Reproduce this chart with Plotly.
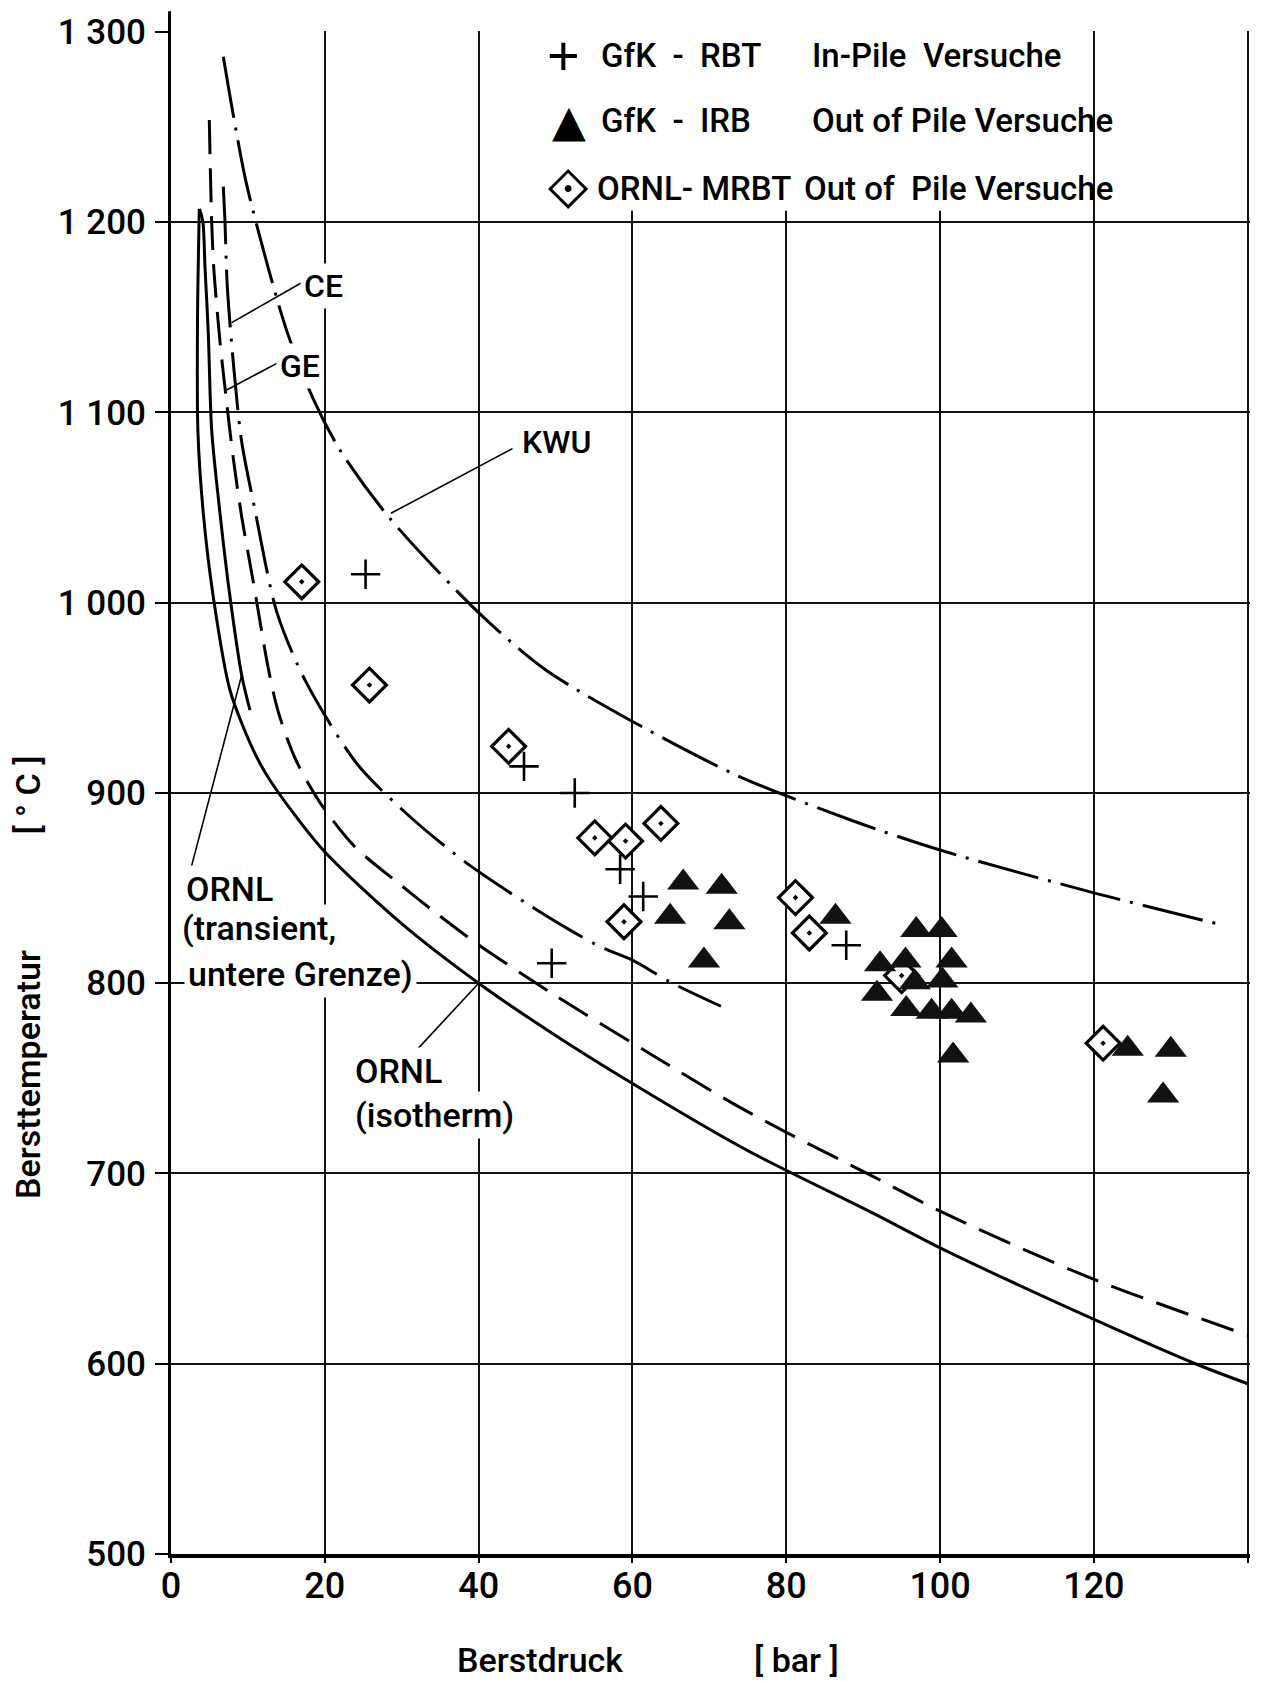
import plotly.graph_objects as go

# ---------------- data ----------------
press_ticks = [0, 20, 40, 60, 80, 100, 120, 140]
temp_ticks = [500, 600, 700, 800, 900, 1000, 1100, 1200, 1300]
temp_labels = ["500", "600", "700", "800", "900", "1 000", "1 100", "1 200", "1 300"]

# ORNL (isotherm) - solid
iso_p = [3.68, 3.45, 3.5, 4.2, 5.5, 7.67, 10.7, 12.87, 19.6, 29.8, 40.0, 49.3, 60.0, 74.9, 91.4, 100.2, 119.8, 133.2, 140.0]
iso_t = [1207, 1150, 1090, 1047, 1003, 954, 922.5, 906.7, 870.8, 832, 800, 774.4, 747.3, 712.2, 678.9, 660.5, 623.7, 600, 589.5]

# ORNL (transient, untere Grenze) - solid, short
tra_p = [3.72, 4.15, 4.42, 4.85, 5.29, 6.37, 7.67, 9.19, 10.27]
tra_t = [1207, 1200, 1176.6, 1141.6, 1090.7, 1047, 1003.1, 961.9, 943.5]

# GE - long dashes
ge_p = [4.98, 5.29, 5.59, 6.37, 7.15, 8.1, 9.19, 10.7, 12.65, 13.95, 16.25, 19.6, 23.9, 29.35, 34.55,
        39.75, 49.9, 61.9, 73.1, 80.3, 91.4, 100.2, 119.8, 140.0]
ge_t = [1253.7, 1200.3, 1174, 1137.2, 1108.3, 1075.9, 1045.2, 1011, 965.5, 942.6, 917.2, 893.6, 871.7, 853.3, 836.6,
        820.9, 793.7, 763.9, 736.7, 721, 698.2, 679.8, 644.7, 615]

# CE - dash-dot
ce_p = [6.8, 7.02, 7.32, 8.19, 9.19, 10.92, 13.75, 17.43, 24.15, 30.86, 38.32, 46.25, 51.9, 56.0, 60.0, 65.1, 71.5]
ce_t = [1218.7, 1200.3, 1166.1, 1122.3, 1084.6, 1048.7, 995.2, 959.3, 915.5, 888.3, 863.5, 841.9, 827.9, 818.8, 812.1, 800.2, 787.9]

# KWU - dash-dot, long dashes
kwu_p = [6.8, 8.1, 9.75, 12.65, 15.12, 18.43, 21.98, 28.4, 40.0, 48.6, 60.0, 73.7, 88.9, 100.0, 120.0, 136.3]
kwu_t = [1287, 1256.4, 1221.3, 1175.8, 1142.1, 1107.7, 1080.2, 1044.6, 994.8, 965, 937.6, 909, 885, 870, 847.5, 831]

# GfK - RBT  In-Pile Versuche (+)
rbt_p = [25.3, 45.9, 52.5, 58.4, 61.4, 49.5, 87.8]
rbt_t = [1015, 914, 900, 859.9, 845.6, 810.5, 820]

# GfK - IRB  Out of Pile Versuche (filled triangles)
irb_p = [66.6, 71.6, 64.9, 72.6, 69.3, 86.4, 96.9, 100.2, 92.2, 95.5, 101.5, 96.7, 100.3, 91.8, 95.6, 98.9, 101.5, 104.0,
         101.7, 124.4, 130.0, 129.0]
irb_t = [853, 850.7, 835, 832, 812, 835, 828, 828, 810, 812, 812, 800.5, 801.5, 794.5, 786.5, 785, 785, 783,
         762, 765.5, 765, 741]

# ORNL - MRBT  Out of Pile Versuche (open diamonds with dot)
mrbt_p = [17.0, 25.8, 43.9, 55.1, 59.1, 63.7, 58.9, 81.2, 83.0, 95.0, 121.2]
mrbt_t = [1011, 956.7, 924.5, 876.4, 874.7, 884, 832.3, 845, 826.4, 804, 768.5]

# ---------------- figure ----------------
FONT = "Roboto, Liberation Sans, sans-serif"
SYMFONT = "DejaVu Sans, Liberation Sans, sans-serif"
W = 500

fig = go.Figure()


def curve(x, y, dash, name):
    fig.add_trace(go.Scatter(
        x=x, y=y, mode="lines", name=name, hoverinfo="skip",
        line=dict(color="black", width=3, dash=dash, shape="spline", smoothing=0.8)))


curve(iso_p, iso_t, "solid", "ORNL (isotherm)")
curve(tra_p, tra_t, "solid", "ORNL (transient, untere Grenze)")
curve(ge_p, ge_t, "34px,14px", "GE")
curve(ce_p, ce_t, "58px,11px,3px,11px", "CE")
curve(kwu_p, kwu_t, "62px,10px,3px,10px", "KWU")

fig.add_trace(go.Scatter(
    x=mrbt_p, y=mrbt_t, mode="markers", name="ORNL- MRBT Out of Pile Versuche",
    marker=dict(symbol="diamond-dot", size=26, color="white", line=dict(color="black", width=3.2))))
fig.add_trace(go.Scatter(
    x=rbt_p, y=rbt_t, mode="markers", name="GfK - RBT In-Pile Versuche",
    marker=dict(symbol="cross-thin", size=21, color="black", line=dict(color="black", width=2.6))))
fig.add_trace(go.Scatter(
    x=irb_p, y=irb_t, mode="markers", name="GfK - IRB Out of Pile Versuche",
    marker=dict(symbol="triangle-up", size=28, color="#111111", line=dict(width=0))))

shapes = []
# white band behind the key (hides the 60/80/100 grid lines there)
shapes.append(dict(type="rect", xref="x", yref="y", x0=40.7, x1=119.4, y0=1206, y1=1301,
                   fillcolor="white", line=dict(width=0), layer="between"))
# y axis line extending above 1300
shapes.append(dict(type="line", xref="paper", yref="paper", x0=-0.0014, x1=-0.0014, y0=1.0, y1=1.013,
                   line=dict(color="black", width=3)))
# leader lines of the curve labels
leaders = [
    ((17.2, 1168.7), (7.89, 1147.2)),   # CE
    ((13.75, 1125.8), (7.24, 1111.8)),  # GE
    ((44.4, 1081.0), (28.6, 1047.0)),   # KWU
    ((2.6, 860.5), (9.19, 961.9)),      # ORNL transient
    ((31.3, 762.1), (40.0, 800.0)),     # ORNL isotherm
]
for (xa, ya), (xb, yb) in leaders:
    shapes.append(dict(type="line", xref="x", yref="y", x0=xa, y0=ya, x1=xb, y1=yb,
                       line=dict(color="black", width=1.6)))

ann = []


def label(x, y, text, size=34, xanchor="center", bg=True, family=FONT, yref="y", xref="x", angle=0, weight=W):
    d = dict(x=x, y=y, text=text, xref=xref, yref=yref, showarrow=False, xanchor=xanchor, yanchor="middle",
             font=dict(family=family, size=size, color="black", weight=weight), textangle=angle, borderpad=3)
    if bg:
        d["bgcolor"] = "white"
    ann.append(d)


label(19.8, 1166.5, "CE", size=32)
label(16.8, 1124.4, "GE", size=32)
label(50.1, 1084.4, "KWU", size=32)
label(1.4, 849.4, "ORNL", xanchor="left")
label(0.9, 828.9, "(transient,", xanchor="left")
label(1.7, 804.7, "untere Grenze)", xanchor="left")
label(23.4, 753.7, "ORNL", xanchor="left")
label(23.4, 730.6, "(isotherm)", xanchor="left")

# key
rows_t = [1287.4, 1253.2, 1217.5]
label(51.1, rows_t[0], "+", size=56, bg=False, family="Liberation Sans, sans-serif", weight=400)
label(51.8, rows_t[1], "▲", size=44, bg=False, family=SYMFONT, weight=400)
label(51.6, rows_t[2], "⟐", size=56, bg=False, family=SYMFONT, weight=400)
label(55.4, rows_t[0], "GfK  -  RBT", size=33, xanchor="left", bg=False)
label(55.4, rows_t[1], "GfK  -  IRB", size=33, xanchor="left", bg=False)
label(54.9, rows_t[2], "ORNL- MRBT", size=33, xanchor="left", bg=False)
label(82.8, rows_t[0], "In-Pile  Versuche", size=33, xanchor="left", bg=False)
label(82.8, rows_t[1], "Out of Pile Versuche", size=33, xanchor="left", bg=False)
label(81.8, rows_t[2], "Out of  Pile Versuche", size=33, xanchor="left", bg=False)

# axis titles
label(48.0, -0.0696, "Berstdruck", size=34, bg=False, yref="paper")
label(81.3, -0.0696, "[ bar ]", size=34, bg=False, yref="paper")
label(-0.1325, 0.3145, "Bersttemperatur", size=34, bg=False, xref="paper", yref="paper", angle=-90)
label(-0.1325, 0.498, "[ ° C ]", size=34, bg=False, xref="paper", yref="paper", angle=-90)

fig.update_layout(
    width=1274, height=1681,
    margin=dict(l=171, r=24, t=31, b=127),
    paper_bgcolor="white", plot_bgcolor="white",
    showlegend=False,
    shapes=shapes, annotations=ann,
    xaxis=dict(range=[0, 140.3], tickvals=press_ticks, ticktext=[str(v) for v in press_ticks],
               showgrid=True, gridcolor="#111111", gridwidth=1.5, zeroline=False,
               showline=True, linecolor="black", linewidth=4,
               ticks="outside", ticklen=5, tickwidth=1.5, tickcolor="black",
               tickfont=dict(family=FONT, size=36, color="black", weight=W), ticklabelstandoff=-8),
    yaxis=dict(range=[500, 1300.5], tickvals=temp_ticks, ticktext=temp_labels,
               showgrid=True, gridcolor="#111111", gridwidth=1.5, zeroline=False,
               showline=True, linecolor="black", linewidth=3,
               ticks="outside", ticklen=13, tickwidth=1.5, tickcolor="black",
               tickfont=dict(family=FONT, size=35, color="black", weight=W), ticklabelstandoff=2),
)

fig.write_html("out.html")
